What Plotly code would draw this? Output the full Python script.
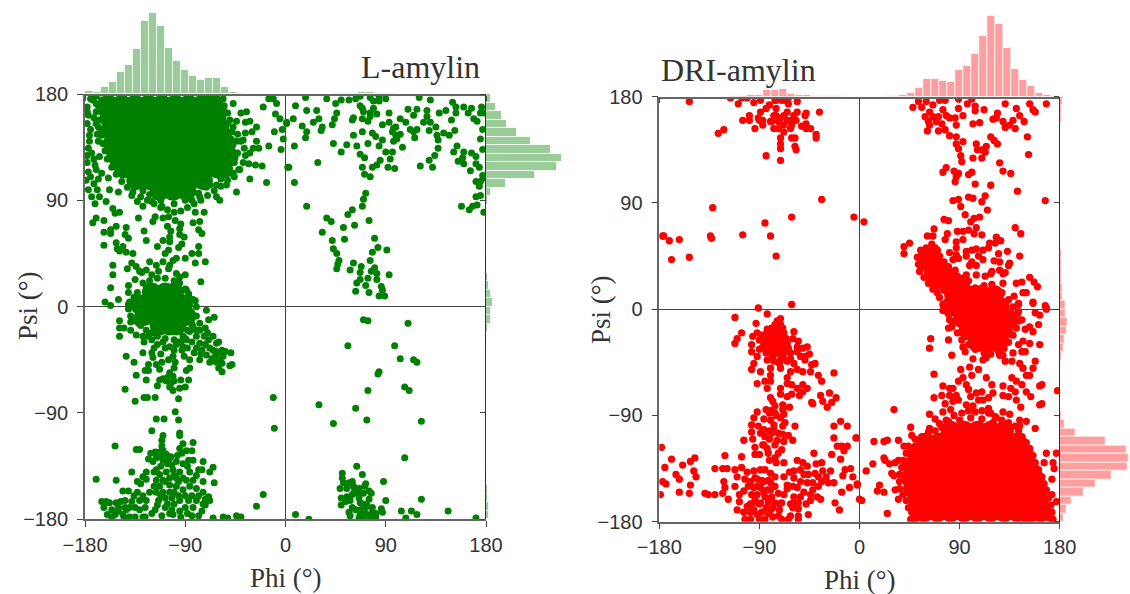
import plotly.graph_objects as go

W, H = 1130, 594

# ---------- L-amylin ----------
l_core = [
 (-159,171),(-147,171),(-135,171),(-123,171),(-111,171),(-99,171),(-87,171),(-75,171),(-65,171),
 (-158,160),(-146,160),(-134,160),(-122,160),(-110,160),(-98,160),(-86,160),(-74,160),(-62,160),
 (-157,149),(-145,149),(-133,149),(-121,149),(-109,149),(-97,149),(-85,149),(-73,149),(-59,149),
 (-155,138),(-143,138),(-131,138),(-119,138),(-107,138),(-95,138),(-83,138),(-71,138),(-59,138),(-53,138),
 (-151,127),(-139,127),(-127,127),(-115,127),(-103,127),(-91,127),(-79,127),(-67,127),(-55,127),(-51,127),
 (-145,117),(-133,117),(-121,117),(-109,117),(-97,117),(-85,117),(-73,117),(-61,117),(-56,117),
 (-134,107),(-122,107),(-110,107),(-98,107),(-86,107),(-74,107),
 (-113,98),(-101,98),(-89,98),
 (-120,12),(-108,12),(-100,12),
 (-131,2),(-120,2),(-109,2),(-98,2),(-92,2),
 (-127,-8),(-116,-8),(-105,-8),(-94,-8),(-89,-8),
 (-113,-16),(-104,-16),(-98,-16),
]
l_edge = [
 (-173,175),(-168,170),(-170,165),(-167,158),(-168,152),(-165,145),(-164,138),(-162,132),(-160,125),(-156,118),(-152,112),(-147,106),(-142,101),(-137,97),(-130,93),(-124,90),(-118,87),(-112,84),(-106,82),(-100,80),(-94,81),(-88,84),(-82,87),(-76,90),(-70,94),(-64,98),(-58,102),(-52,107),(-46,110),(-42,116),(-38,122),(-36,128),(-37,134),(-40,140),(-43,146),(-47,152),(-50,158),(-52,164),(-55,170),(-56,176),(-62,178),(-72,178),(-170,178),(-165,175),
 (-165,165),(-162,155),(-160,145),(-158,130),(-152,122),(-146,112),(-138,106),(-128,98),(-122,95),(-112,90),(-100,87),(-90,90),(-78,96),(-68,103),(-58,108),(-50,113),(-46,122),(-43,130),(-44,140),(-48,148),(-52,155),(-55,165),
 (-128,20),(-122,22),(-115,24),(-108,24),(-100,22),(-95,20),(-136,8),(-140,4),(-141,-2),(-139,-8),(-135,-12),(-130,-16),(-125,-20),(-120,-22),(-115,-25),(-108,-27),(-100,-28),(-92,-25),(-88,-20),(-84,-15),(-80,-8),(-80,0),(-83,6),(-87,10),(-90,15),(-133,12),(-125,17),(-90,-27),(-96,-30),(-80,-20),(-72,-18),
 (-112,-40),(-110,-30),(-104,-34),(-100,-37),(-94,-30),(-88,-35),(-84,-30),(-80,-35),(-76,-40),(-72,-32),(-68,-35),(-70,-22),(-118,-22),(-128,-25),(-86,-45),(-68,-47),(-62,-38),(-100,-52),(-106,-60),(-94,-62),
 (-118,-140),(-112,-135),(-106,-133),(-100,-143),(-96,-148),(-108,-148),(-113,-152),(-118,-152),(-100,-157),(-96,-160),(-90,-160),(-84,-160),(-78,-160),(-72,-163),(-112,-160),(-106,-167),(-100,-167),(-90,-170),(-94,-178),(-104,-175),(-115,-168),(-120,-175),(-88,-175),(-78,-177),(-72,-168),(-86,-140),(-92,-145),(-80,-143),(-88,-135),(-103,-127),(-97,-126),(-111,-127),(-116,-128),(-125,-146),(-130,-150),(-140,-170),(-148,-165),(-146,-176),(-140,-178),(-131,-172),(-156,-178),(-163,-170),(-158,-166),(-128,-178),(-136,-160),(-128,-160),(-143,-172),
 (60,-170),(63,-172),(72,-175),(78,-170),(62,-156),(55,-154),(65,-158),(72,-170),
]
l_points = [
 (-175,176),(-170,172),(-178,165),(-172,160),(-175,150),(-170,155),(-168,140),(-172,125),(-178,122),(-175,110),(-172,104),(-168,108),(-178,128),(-166,150),
 (-178,169),(-177,162),(-178,155),(-169,146),(-176,145),(-176,140),(-177,134),(-174,130),(-167,127),(-171,120),(-177,114),(-170,116),(-165,113),(-159,109),(-179,107),(-177,99),(-169,99),(-158,99),(-150,97),(-174,93),(-167,93),(-161,89),(-171,87),(-155,83),(-149,80),(-153,79),(-170,75),(-173,71),(-163,73),(-163,63),(-157,65),(-157,62),(-152,68),(-143,67),(-144,61),(-141,58),(-163,52),(-152,54),(-151,49),(-146,51),(-149,47),(-143,46),(-137,45),(-155,35),(-138,37),(-142,32),(-134,34),(-155,27),(-131,30),(-157,16),(-141,18),(-141,12),(-135,23),(-162,4),(-157,1),(-150,6),(-141,2),
 (-138,94),(-133,89),(-128,85),(-120,89),(-117,76),(-119,72),(-132,75),(-127,64),(-125,56),(-115,51),(-111,85),(-105,76),(-110,75),(-99,73),(-106,68),(-103,64),(-94,70),(-95,66),(-83,71),(-77,72),(-81,80),(-73,80),(-78,65),(-75,62),(-95,61),(-91,59),(-104,59),(-110,56),(-104,55),(-93,53),(-96,50),(-105,48),(-108,45),(-78,51),(-78,45),(-84,45),(-90,41),(-98,41),(-101,39),(-81,37),(-72,38),(-122,38),(-110,38),(-116,35),(-104,35),(-105,32),(-114,30),(-125,31),(-129,29),(-120,27),(-98,28),(-90,27),(-95,25),(-76,21),(-89,14),(-87,11),(-81,5),
 (-62,93),(-59,90),(-44,97),(-32,108),(-17,105),(-53,103),(-62,103),(-71,101),(-77,93),(-84,90),
 (-47,172),(-40,164),(-35,165),(-44,157),(-32,157),(-36,156),(-26,152),(-30,148),(-36,147),(-38,141),(-26,140),(-29,134),(-24,134),(-32,130),(-33,121),(-27,120),(-21,119),(-41,116),(-47,113),(-20,169),(-15,176),(-11,176),(-8,172),(-9,163),(-5,159),(-10,148),(-15,136),(-3,150),(1,155),(-2,142),(-4,133),(2,118),
 (-71,-3),(-64,-9),(-69,-11),(-149,-12),(-149,-18),(-145,-18),(-149,-25),(-139,-20),(-134,-24),(-139,-13),(-132,-14),(-127,-30),(-128,-39),(-143,-42),(-136,-47),(-123,-25),(-120,-28),(-118,-35),(-115,-32),(-120,-39),(-119,-43),(-123,-49),(-116,-49),(-111,-47),(-113,-53),(-126,-54),(-123,-54),(-134,-58),(-125,-62),(-144,-70),(-135,-80),(-127,-77),(-124,-77),(-117,-77),
 (-108,-35),(-105,-45),(-101,-42),(-99,-47),(-104,-56),(-101,-59),(-110,-61),(-113,-62),(-115,-67),(-107,-63),(-103,-65),(-100,-63),(-104,-68),(-101,-71),(-95,-69),(-90,-68),(-87,-62),(-89,-54),(-86,-52),(-96,-78),
 (-98,-32),(-92,-34),(-93,-37),(-91,-42),(-89,-28),(-82,-39),(-77,-45),(-75,-37),(-71,-41),(-77,-31),(-80,-25),(-73,-25),(-77,-20),(-86,-21),(-83,-17),(-77,-14),(-65,-25),(-69,-28),(-62,-31),(-65,-37),(-60,-39),(-63,-42),(-57,-37),(-56,-42),(-62,-47),(-57,-48),(-49,-39),(-54,-38),(-48,-49),(-50,-50),(-60,-52),(-57,-55),(-59,-45),(-66,-44),(-60,-30),
 (-11,-77),(-10,-103),
 (-99,-89),(-96,-96),(-116,-95),(-109,-95),(-120,-105),(-110,-109),(-111,-113),(-95,-107),(-95,-109),(-153,-118),(-134,-121),(-131,-121),(-111,-118),(-83,-115),(-92,-116),(-95,-120),(-93,-124),(-89,-122),(-84,-122),
 (-123,-129),(-121,-124),(-117,-123),(-113,-123),(-110,-122),(-107,-125),(-119,-131),(-110,-130),(-105,-130),(-102,-134),(-98,-131),(-92,-133),(-87,-130),(-83,-130),(-74,-131),(-78,-138),(-65,-136),(-68,-140),(-64,-149),(-75,-138),(-138,-140),(-170,-146),(-152,-147),(-133,-148),(-128,-144),(-125,-140),(-116,-138),(-113,-142),(-107,-140),(-101,-138),(-95,-140),(-116,-147),(-110,-147),(-104,-145),(-98,-145),(-89,-147),(-83,-147),(-74,-148),(-104,-151),(-98,-152),(-92,-155),(-86,-152),(-80,-154),(-74,-157),(-69,-161),(-68,-164),(-146,-156),(-141,-156),(-133,-157),(-122,-157),(-116,-157),(-110,-157),(-104,-157),(-165,-165),(-161,-165),(-152,-166),(-144,-164),(-138,-165),(-131,-164),(-125,-164),(-114,-164),(-108,-162),(-102,-162),(-95,-164),(-87,-164),(-80,-164),(-74,-167),(-150,-170),(-144,-170),(-135,-170),(-126,-170),(-117,-172),(-108,-170),(-102,-172),(-95,-173),(-83,-170),(-75,-173),(-160,-176),(-153,-176),(-145,-178),(-135,-178),(-126,-178),(-111,-177),(-101,-176),(-84,-177),(-65,-179),(-56,-178),(-52,-179),(-44,-177),(-40,-178),(-26,-169),(-20,-159),(-150,-173),(-156,-172),
 (18,177),(37,176),(50,175),(57,175),(63,176),(67,178),(76,177),(84,178),(90,176),(120,177),(130,175),(45,172),(67,170),(79,174),(84,174),(9,170),(19,166),(28,166),(46,164),(44,159),(69,168),(70,165),(79,168),(82,163),(76,164),(93,164),(110,167),(118,167),(115,162),(127,166),(127,161),(138,164),(144,166),(150,173),(153,169),(153,164),(160,169),(167,168),(164,164),(176,169),(175,164),(178,164),(169,159),(172,157),(149,158),
 (7,159),(1,156),(15,153),(25,156),(30,159),(33,152),(32,149),(19,148),(18,143),(42,154),(60,158),(61,160),(69,159),(74,157),(76,161),(87,154),(93,156),(103,159),(108,156),(97,151),(99,152),(96,148),(124,156),(130,156),(135,152),(112,150),(115,148),(118,150),(116,143),(129,149),(142,147),(136,145),(147,145),(152,149),(177,150),(175,142),
 (61,145),(69,148),(78,147),(81,144),(99,145),(103,146),(100,142),(97,140),(87,141),(84,136),(105,135),(43,138),(55,137),(64,136),(74,138),(8,136),(50,131),(67,129),(71,126),(90,131),(96,131),(85,124),(94,125),(82,120),(78,118),(69,118),(92,118),(98,117),(29,122),(3,118),(8,105),(19,85),(71,112),(76,110),
 (137,141),(137,134),(134,128),(129,124),(121,119),(132,118),(154,136),(151,131),(160,131),(167,130),(177,133),(171,127),(155,123),(160,121),(159,126),(171,121),(174,118),(166,115),(177,111),(171,106),(175,106),(178,109),(174,102),(171,93),(175,94),(172,86),(168,85),(165,82),(158,85),(178,80),
 (72,96),(70,91),(69,85),(60,82),(56,78),(37,75),(41,72),(52,67),(62,69),(75,73),(33,63),(42,56),(53,57),(80,58),(43,49),(46,45),(83,50),(78,46),(91,48),(48,39),(47,36),(46,32),(76,39),(61,37),(58,31),(68,34),(67,29),(80,33),(77,30),(82,28),(93,27),(74,24),(67,23),(82,23),(64,20),(72,18),(86,17),(63,13),(75,12),(87,14),(84,9),(89,9),
 (70,-11),(74,-12),(110,-14),(56,-33),(98,-33),(103,-44),(115,-45),(118,-47),(84,-55),(83,-57),(74,-71),(107,-68),(111,-71),(30,-83),(63,-86),(73,-96),(122,-97),(43,-99),(107,-128),(64,-135),(69,-142),(51,-141),(51,-145),(52,-149),(57,-149),(60,-148),(61,-152),(66,-154),(49,-154),(72,-150),(71,-152),(88,-148),(75,-156),(77,-158),(70,-158),(60,-159),(55,-161),(50,-162),(75,-163),(66,-162),(58,-164),(54,-165),(50,-168),(67,-166),(70,-167),(73,-168),(90,-164),(122,-163),(86,-171),(57,-174),(67,-172),(87,-174),(78,-174),(81,-175),(58,-177),(67,-176),(70,-178),(76,-178),(66,-179),(81,-178),(104,-173),(113,-173),(118,-176),(108,-179),(146,-173),(171,-179),(9,-176),(21,-180),
]
l_top_counts = [3,2.3,6.7,11.7,22,29,44.7,72.7,80.7,68,45.7,33,23.7,18,14,16,16,6.7,2.3,.7,.3,.2,.1,.1,.1,.2,.2,.2,.3,.5,.5,.7,1,1.2,2.2,2.2,1.5,1,.6,.5,.4,.3,.3,.4,.4,.4,.3,.3,.3,.3]
l_right_counts = [5.3,9.7,16,21,31,45,65,76,71,49,20,5,1.5,.3,.2,.2,.2,.2,.3,.5,1,2,3,5,7,5,5,2,1,.5,.3,.3,.3,.2,.2,.2,.2,.2,.2,.2,.3,.3,.3,.4,.5,1,1.5,2,2.5,3]

# ---------- DRI-amylin ----------
d_core = [
 (82,-103),(94,-103),(106,-103),(118,-103),(130,-103),
 (60,-113),(72,-113),(84,-113),(96,-113),(108,-113),(120,-113),(132,-113),(142,-113),
 (52,-123),(64,-123),(76,-123),(88,-123),(100,-123),(112,-123),(124,-123),(136,-123),(148,-123),
 (47,-133),(59,-133),(71,-133),(83,-133),(95,-133),(107,-133),(119,-133),(131,-133),(143,-133),(152,-133),
 (46,-143),(58,-143),(70,-143),(82,-143),(94,-143),(106,-143),(118,-143),(130,-143),(142,-143),(154,-143),(157,-143),
 (48,-152),(60,-152),(72,-152),(84,-152),(96,-152),(108,-152),(120,-152),(132,-152),(144,-152),(156,-152),(160,-152),
 (53,-162),(65,-162),(77,-162),(89,-162),(101,-162),(113,-162),(125,-162),(137,-162),(149,-162),(161,-162),
 (58,-172),(70,-172),(82,-172),(94,-172),(106,-172),(118,-172),(130,-172),(142,-172),(154,-172),(163,-172),
 (85,12),(97,12),(109,12),(121,12),
 (82,2),(94,2),(106,2),(118,2),(126,2),
 (93,-8),(105,-8),(117,-8),(129,-8),(134,-8),
 (98,-18),(110,-18),(122,-18),(129,-18),
 (106,-28),(116,-28),(123,-28),
]
d_wedge = [(59,46),(66,47),(58,38),(66,38),(73,37),(64,30),(72,29),(80,30),(70,22),(80,22),(90,22)]
d_edge = [
 (80,-95),(85,-90),(92,-88),(98,-86),(104,-87),(110,-86),(116,-88),(122,-91),(128,-94),(134,-96),(140,-99),(143,-103),(72,-97),(68,-103),(62,-104),(56,-108),(50,-110),(146,-108),(150,-113),(153,-118),(156,-124),(158,-130),(161,-136),(164,-142),(166,-148),(168,-154),(170,-160),(172,-166),(173,-172),(174,-178),(44,-116),(42,-122),(39,-128),(38,-134),(36,-140),(36,-146),(36,-152),(39,-157),(42,-162),(44,-168),(47,-172),(50,-178),(74,-100),(90,-94),(100,-92),(110,-93),(120,-96),(135,-100),(50,-116),(55,-113),
 (72,10),(76,16),(82,20),(90,18),(96,20),(104,18),(112,20),(120,16),(128,14),(134,8),(138,2),(142,-4),(143,-10),(141,-16),(138,-22),(134,-28),(130,-33),(125,-36),(118,-38),(112,-37),(104,-34),(98,-30),(92,-26),(88,-20),(84,-12),(80,-4),(75,4),
 (55,50),(60,52),(65,55),(70,50),(52,44),(53,38),(54,32),(58,27),(62,22),(66,17),(70,14),(76,40),(80,36),(84,30),(88,28),(92,26),(98,24),(76,25),(86,33),(68,52),(72,45),
 (-76,-18),(-72,-23),(-78,-23),(-84,-21),(-70,-32),(-75,-35),(-79,-34),(-84,-33),(-88,-33),(-65,-35),(-72,-38),(-78,-40),(-72,-46),(-68,-42),(-62,-42),
 (-92,-150),(-86,-155),(-80,-153),(-90,-165),(-84,-168),(-78,-168),(-72,-165),(-88,-145),(-82,-145),(-76,-150),(-94,-143),(-94,-160),(-98,-165),(-95,-170),(-88,-172),(-80,-170),(-72,-170),(-85,-178),(-70,-178),(-78,-176),(-98,-178),(-90,-178),(-110,-170),(-112,-150),(-100,-150),(-60,-150),(-50,-140),(-63,-138),(-46,-140),(-50,-155),(-62,-165),(-48,-165),(-42,-147),(-34,-146),(-87,-115),(-76,-115),(-79,-105),(-85,-108),(-75,-90),(-71,-92),(-80,-86),
]
d_points = [
 (-153,176),(-116,179),(-106,179),(-101,179),(-109,174),(-95,175),(-89,177),(-127,149),(-122,152),(-105,160),(-99,164),(-99,160),(-94,153),(-91,162),(-90,160),(-87,160),(-87,156),(-89,167),(-84,170),(-81,173),(-79,159),(-77,153),(-76,177),(-75,170),(-75,164),(-73,159),(-68,150),(-71,162),(-67,177),(-64,174),(-65,167),(-68,164),(-62,160),(-59,164),(-56,176),(-56,167),(-57,160),(-61,156),(-62,153),(-71,145),(-71,140),(-71,136),(-61,145),(-58,145),(-58,138),(-57,135),(-84,130),(-71,126),(-52,155),(-48,166),(-49,164),(-48,157),(-48,153),(-44,153),(-39,148),(-39,145),(-36,167),(-65,160),(-68,156),(-73,153),(-77,164),(-75,177),(-70,177),(-64,179),(-80,159),
 (-34,93),(-132,86),(-5,78),(-61,78),(-85,73),(-105,63),(-80,62),(-134,62),(-133,60),(-177,62),(-176,62),(-171,58),(-162,59),(-169,42),(-153,44),(-75,45),(-91,1),(-61,4),(4,74),
 (-112,-7),(-83,-4),(-93,-12),(-106,-20),(-110,-25),(-112,-29),
 (-71,-8),(-74,-10),(-76,-13),(-71,-13),(-79,-16),(-74,-16),(-69,-16),(-83,-17),(-82,-20),(-77,-20),(-73,-20),(-68,-20),(-88,-22),(-92,-20),(-96,-23),(-84,-25),(-80,-25),(-75,-25),(-71,-25),(-66,-25),(-90,-26),(-83,-29),(-79,-29),(-74,-29),(-70,-29),(-65,-29),(-86,-30),(-97,-30),(-81,-33),(-77,-33),(-73,-33),(-68,-33),(-64,-33),(-97,-36),(-90,-34),(-84,-37),(-80,-37),(-74,-37),(-68,-37),(-62,-37),(-56,-36),(-59,-19),(-60,-25),(-55,-27),(-56,-32),(-51,-33),(-47,-32),(-53,-40),(-49,-40),(-45,-38),(-49,-43),(-40,-46),(-43,-47),(-44,-53),(-37,-56),(-34,-61),(-23,-54),(-92,-40),(-95,-46),(-97,-51),(-89,-53),(-83,-43),(-77,-44),(-71,-43),(-65,-44),(-59,-46),(-80,-50),(-71,-50),(-62,-53),(-56,-51),(-51,-53),(-80,-56),(-65,-58),(-92,-63),(-85,-61),(-80,-61),(-83,-67),(-71,-67),(-65,-63),(-61,-64),(-56,-67),(-51,-64),(-47,-67),(-51,-70),(-71,-72),(-65,-74),(-61,-72),(-54,-73),(-35,-73),(-27,-71),(-21,-75),(-33,-78),(-25,-79),(-29,-83),(-43,-79),(-42,-80),(-80,-75),(-78,-78),(-76,-82),(-69,-81),(-69,-85),(-63,-83),(-68,-89),(-84,-85),(-81,-88),(-76,-88),
 (-92,-87),(-95,-92),(-86,-93),(-97,-98),(-91,-99),(-80,-94),(-77,-98),(-67,-96),(-69,-99),(-58,-99),(-86,-102),(-89,-105),(-97,-104),(-81,-103),(-77,-102),(-73,-105),(-69,-106),(-64,-107),(-60,-111),(-96,-110),(-104,-111),(-81,-110),(-74,-111),(-68,-112),(-94,-117),(-86,-115),(-83,-118),(-70,-119),(-94,-123),(-90,-123),(-82,-122),(-73,-122),(-81,-128),(-76,-126),(-68,-130),(-75,-130),
 (-178,-117),(-169,-127),(-175,-134),(-159,-132),(-152,-129),(-148,-126),(-149,-137),(-147,-142),(-165,-140),(-162,-144),(-177,-146),(-174,-148),(-152,-149),(-162,-155),(-153,-156),(-179,-157),(-139,-156),(-136,-157),(-130,-157),(-130,-135),(-123,-135),(-119,-135),(-121,-124),(-122,-146),(-121,-151),(-123,-156),(-118,-161),(-112,-136),(-106,-125),(-106,-134),(-110,-142),(-101,-138),(-103,-144),(-108,-163),(-108,-157),(-104,-154),(-98,-146),(-95,-137),(-89,-136),(-85,-136),(-80,-139),(-76,-142),(-92,-144),(-86,-146),(-80,-147),(-95,-151),(-89,-151),(-83,-153),(-77,-150),(-97,-157),(-92,-157),(-85,-159),(-79,-159),(-73,-156),(-68,-157),(-101,-167),(-95,-164),(-89,-164),(-82,-163),(-76,-164),(-70,-164),(-104,-172),(-98,-172),(-92,-174),(-82,-173),(-73,-175),(-103,-178),(-62,-175),(-55,-175),(-64,-178),(-55,-178),(-46,-174),
 (-59,-137),(-53,-136),(-56,-128),(-51,-130),(-47,-133),(-68,-142),(-59,-143),(-53,-146),(-65,-149),(-56,-151),(-47,-147),(-65,-152),(-59,-159),(-53,-159),(-59,-164),(-55,-164),(-55,-169),(-60,-168),(-41,-122),(-39,-131),(-34,-130),(-40,-139),(-33,-137),(-26,-137),(-37,-142),(-30,-142),(-28,-147),(-23,-147),(-37,-150),(-42,-153),(-44,-157),(-38,-159),(-44,-162),(-35,-161),(-16,-155),(-22,-164),(-18,-170),(-9,-151),(-8,-135),(-13,-136),(-15,-141),(-6,-142),(-2,-148),(-25,-123),(-17,-127),(-20,-116),(-16,-116),(-11,-116),(-14,-120),(-23,-109),(-23,-99),(-17,-95),(-11,-99),(-3,-109),(0,-161),
 (48,171),(53,176),(56,171),(60,176),(66,173),(72,177),(77,177),(63,167),(59,163),(62,159),(66,163),(71,163),(75,169),(78,164),(69,159),(74,157),(81,162),(86,162),(87,156),(61,151),(63,156),(71,151),(77,152),(89,170),(89,178),(97,174),(101,178),(104,172),(104,168),(112,169),(93,164),(102,157),(108,158),(120,161),(124,166),(123,162),(129,159),(131,174),(141,170),(153,174),(168,174),(144,164),(138,160),(148,159),(135,156),(131,154),(140,153),(156,169),(158,167),(151,146),(152,131),
 (81,147),(87,146),(93,142),(87,140),(89,136),(91,130),(92,125),(105,140),(106,135),(110,135),(114,138),(113,133),(102,128),(110,128),(118,146),(121,143),(124,140),(126,124),(129,117),(136,115),(78,120),(75,116),(85,117),(89,115),(87,112),(86,108),(98,114),(101,116),(104,106),(118,105),(142,100),(167,92),(98,95),(102,94),(113,96),(110,91),(84,92),(89,93),(91,87),(115,84),(95,80),(108,78),(103,77),(100,74),(76,76),(80,75),(67,68),(105,69),(140,69),(145,64),(61,62),(66,62),(79,64),(77,59),(88,66),(93,66),(98,67),(103,64),(110,63),(93,59),(87,57),(40,53),(45,56),(40,47),
 (81,48),(87,52),(87,46),(84,42),(89,43),(96,45),(96,49),(101,50),(105,51),(111,50),(116,52),(117,56),(122,56),(123,61),(127,58),(133,49),(144,45),(125,47),(121,41),(126,40),(135,39),(134,37),(111,42),(107,45),(101,40),(105,37),(99,37),(96,29),(105,29),(113,28),(119,32),(118,30),(126,33),(131,31),(129,30),(129,22),(119,21),(141,22),(146,23),(153,27),(157,23),(160,19),(147,14),(150,14),(139,11),(143,5),(156,6),(167,3),(168,1),
 (77,4),(75,-1),(81,-9),(80,-16),(83,-15),(64,-25),(63,-33),(80,-26),(93,-32),(95,-36),(83,-39),(102,-42),(111,-43),(114,-41),(135,-5),(143,-2),(146,-9),(138,-9),(143,4),(156,5),(158,-3),(162,-5),(168,0),(161,-13),(153,-15),(149,-17),(156,-19),(147,-27),(153,-29),(162,-30),(149,-36),(143,-30),(138,-37),(129,-39),(126,-39),(131,-44),(137,-44),(144,-46),(147,-50),(150,-56),(156,-50),(158,-44),(153,-56),(146,-36),
 (91,-51),(99,-49),(107,-51),(101,-56),(67,-55),(93,-58),(89,-61),(96,-64),(98,-68),(100,-74),(105,-71),(110,-70),(119,-64),(120,-71),(114,-58),(116,-75),(111,-77),(107,-77),(75,-65),(81,-67),(84,-67),(74,-73),(81,-73),(87,-73),(89,-77),(84,-78),(67,-75),(77,-80),(75,-87),(82,-85),(96,-81),(102,-82),(116,-84),(118,-88),(137,-58),(141,-61),(146,-64),(129,-65),(136,-67),(140,-70),(129,-73),(134,-74),(141,-77),(145,-83),(150,-70),(154,-74),(162,-65),(164,-64),(178,-69),(162,-81),(164,-80),(31,-85),(63,-89),(68,-93),(78,-94),(129,-87),(135,-89),(123,-92),(144,-94),(150,-95),(144,-99),(158,-101),(46,-100),(63,-101),(-3,-109),
 (13,-112),(22,-112),(25,-111),(35,-111),(47,-107),(40,-116),(22,-126),(23,-128),(12,-131),(27,-131),(6,-137),(29,-139),(31,-141),(35,-128),(32,-130),(18,-149),(16,-154),(22,-155),(32,-153),(35,-161),(2,-162),(25,-173),(-2,-149),(168,-122),(177,-122),(166,-130),(174,-130),(175,-135),(177,-163),(173,-157),(168,-153),(173,-144),(164,-146),(46,-168),(49,-175),(54,-173),(96,-175),(104,-175),(129,-175),(149,-178),(171,-177),(46,-178),(159,-173),(165,-167),
]
d_top_counts = [.1,.1,.1,.1,.1,.1,.1,.1,.2,.3,.7,1.5,2,6.7,6.7,7.3,3,2,1.5,1,.7,.4,.3,.2,.2,.1,.1,.2,.3,.7,1.7,3.3,8.7,18,18,15.7,15,26.7,30.7,42.7,60.7,80.7,72.3,49,28,17,11,4,1.7,.3]
d_right_counts = [2.7,1.5,1.5,1,.3,.3,.2,.2,.2,.2,.2,.2,.3,.3,.4,.6,1,1,1.5,1.5,1.5,2,2.5,3,6,6,8,7,5,4,2,1,.7,.7,.7,.7,.7,1.5,5,16,46,67,69,68,52,36,24,12,7,4]

tick_vals = [-180, -90, 0, 90, 180]
tick_text = ["−180", "−90", "0", "90", "180"]
bin_centers = [-176.4 + 7.2 * i for i in range(50)]

fig = go.Figure()

def panel(idx, points, core, color, rgba, top, right, size, extra=None):
    a = ["", "2", "3"] if idx == 0 else ["4", "5", "6"]
    for pts, s in [(core, 20)] + ([(extra, 14)] if extra else []) + [(points, size)]:
        fig.add_trace(go.Scatter(x=[p[0] for p in pts], y=[p[1] for p in pts], mode="markers",
                                 marker=dict(color=color, size=s, line=dict(width=0)),
                                 xaxis="x" + a[0], yaxis="y" + a[0], showlegend=False))
    edge = dict(color="rgba(255,255,255,0.75)", width=1)
    fig.add_trace(go.Bar(x=bin_centers, y=top, width=7.2, marker=dict(color=rgba, line=edge),
                         xaxis="x" + a[1], yaxis="y" + a[1], showlegend=False))
    fig.add_trace(go.Bar(y=bin_centers[::-1], x=right, width=7.2, orientation="h", marker=dict(color=rgba, line=edge),
                         xaxis="x" + a[2], yaxis="y" + a[2], showlegend=False))

panel(0, l_points + l_edge, l_core, "#008000", "rgba(0,128,0,0.4)", l_top_counts, l_right_counts, 7)
panel(1, d_points + d_edge, d_core, "#ff0000", "rgba(255,0,0,0.38)", d_top_counts, d_right_counts, 7.3, d_wedge)

font_tick = dict(family="Liberation Sans", size=20, color="#333333")

def axes(idx, x0, x1, ytop, ybot, histright, histtop):
    a = ["", "2", "3"] if idx == 0 else ["4", "5", "6"]
    dx = [x0 / W, x1 / W]
    dy = [1 - ybot / H, 1 - ytop / H]
    main = dict(range=[-180, 180], tickvals=tick_vals, ticktext=tick_text, ticks="outside", ticklen=6,
                tickcolor="#444444", tickwidth=1.2, tickfont=font_tick, showgrid=False, zeroline=True,
                zerolinecolor="#444444", zerolinewidth=1, showline=True, linecolor="#666666", linewidth=1.5,
                automargin=False)
    fig.update_layout({
        "xaxis" + a[0]: dict(main, domain=dx, anchor="y" + a[0], ticklabelstandoff=1),
        "yaxis" + a[0]: dict(main, domain=dy, anchor="x" + a[0], ticklabelstandoff=5),
        "xaxis" + a[1]: dict(domain=dx, range=[-180, 180], anchor="y" + a[1], tickvals=tick_vals, ticks="outside",
                             ticklen=5, tickcolor="#444444", showticklabels=False, showgrid=False, zeroline=False,
                             showline=True, linecolor="#666666", linewidth=1.5, automargin=False),
        "yaxis" + a[1]: dict(domain=[1 - ytop / H, 1 - histtop / H], range=[0, ytop - histtop], anchor="x" + a[1], visible=False, automargin=False),
        "xaxis" + a[2]: dict(domain=[x1 / W, histright / W], range=[0, histright - x1], anchor="y" + a[2], visible=False, automargin=False),
        "yaxis" + a[2]: dict(domain=dy, range=[-180, 180], anchor="x" + a[2], tickvals=tick_vals, ticks="outside",
                             ticklen=5, tickcolor="#444444", showticklabels=False, showgrid=False, zeroline=False,
                             showline=True, linecolor="#333333", linewidth=1.2, automargin=False),
    })

axes(0, 85, 486, 94, 519.3, 566, 12)
axes(1, 659.3, 1059.7, 96.7, 521.7, 1130, 15)

serif = "Liberation Serif"
def label(text, px, py, size, angle=0):
    fig.add_annotation(text=text, x=px / W, y=1 - py / H, xref="paper", yref="paper", showarrow=False,
                       xanchor="center", yanchor="middle", textangle=angle,
                       font=dict(family=serif, size=size, color="#333333"))

label("L-amylin", 420.5, 67, 32)
label("DRI-amylin", 738.5, 70, 32)
label("Phi (°)", 285.5, 578, 27)
label("Phi (°)", 860, 580, 27)
label("Psi (°)", 28, 306, 27, -90)
label("Psi (°)", 601, 310, 27, -90)

fig.update_layout(width=W, height=H, autosize=False, margin=dict(l=0, r=0, t=0, b=0),
                  paper_bgcolor="white", plot_bgcolor="white", bargap=0, showlegend=False)

fig.write_html("out.html", post_script="document.body.style.margin='0';", config=dict(displayModeBar=False))
